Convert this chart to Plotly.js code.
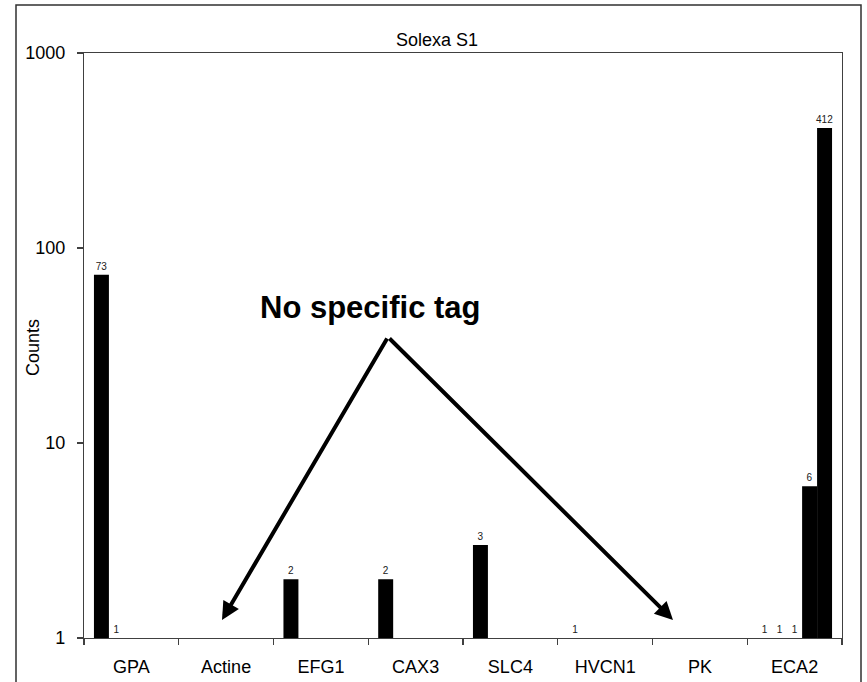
<!DOCTYPE html>
<html>
<head>
<meta charset="utf-8">
<script src="https://cdn.plot.ly/plotly-3.0.1.min.js"></script>
<style>
  html, body { margin: 0; padding: 0; background: #fff; }
  #chart { width: 867px; height: 682px; }
</style>
</head>
<body>
<div id="chart"></div>
<script>
// ---- data ----
const categories = ['GPA', 'Actine', 'EFG1', 'CAX3', 'SLC4', 'HVCN1', 'PK', 'ECA2'];
const series1 = [73, null, 2, 2, 3, 1, null, 1];
const series2 = [1, null, null, null, null, null, null, 1];
const series3 = [null, null, null, null, null, null, null, 1];
const series4 = [null, null, null, null, null, null, null, 6];
const series5 = [null, null, null, null, null, null, null, 412];
const seriesList = [series1, series2, series3, series4, series5];
const chartTitle = 'Solexa S1';
const yTitle = 'Counts';
const noteText = 'No specific tag';
const yTicks = [1, 10, 100, 1000];

const FONT = 'Arial, "Liberation Sans", Helvetica, sans-serif';
const INK = '#000000';
const AXIS = '#404040';

const traces = seriesList.map((vals, i) => ({
  type: 'bar',
  name: 'S' + (i + 1),
  x: categories,
  y: vals,
  text: vals.map(v => (v === null ? '' : String(v))),
  textposition: 'outside',
  constraintext: 'none',
  textfont: { family: FONT, size: 10, color: '#202020' },
  marker: { color: INK, line: { width: 0 } },
  cliponaxis: true,
  hoverinfo: 'x+y',
  showlegend: false
}));

// plot area geometry (px) used only for converting annotation positions
const L = 84, T = 53, R = 25, B = 44;
const W = 867 - L - R, H = 682 - T - B;
const px = v => (v - L) / W;
const py = v => (682 - B - v) / H;

const layout = {
  width: 867,
  height: 682,
  margin: { l: L, r: R, t: T, b: B, pad: 0 },
  paper_bgcolor: '#ffffff',
  plot_bgcolor: '#ffffff',
  font: { family: FONT, color: INK, size: 18 },
  barmode: 'group',
  bargap: 0.21,
  bargroupgap: 0,
  showlegend: false,
  title: {
    text: chartTitle,
    font: { family: FONT, size: 18, color: INK },
    x: 437 / 867, xref: 'container', xanchor: 'center',
    y: 1 - 40 / 682, yref: 'container', yanchor: 'middle'
  },
  xaxis: {
    type: 'category',
    showgrid: false,
    zeroline: false,
    showline: true,
    linecolor: AXIS,
    linewidth: 1.2,
    mirror: true,
    ticks: 'outside',
    tickson: 'boundaries',
    ticklen: 6,
    tickcolor: AXIS,
    tickwidth: 1.2,
    ticklabelstandoff: 12,
    tickfont: { family: FONT, size: 18, color: INK },
    fixedrange: true
  },
  yaxis: {
    type: 'log',
    range: [0, 3],
    tickvals: yTicks,
    ticktext: yTicks.map(String),
    showgrid: false,
    zeroline: false,
    showline: true,
    linecolor: AXIS,
    linewidth: 1.2,
    mirror: true,
    ticks: 'outside',
    ticklen: 6,
    tickcolor: AXIS,
    tickwidth: 1.2,
    ticklabelstandoff: 8,
    tickfont: { family: FONT, size: 18, color: INK },
    fixedrange: true
  },
  shapes: [
    {
      type: 'path', xref: 'paper', yref: 'paper',
      path: 'M ' + px(16) + ' ' + py(700) + ' L ' + px(16) + ' ' + py(5) +
            ' L ' + px(861) + ' ' + py(5) + ' L ' + px(861) + ' ' + py(700),
      line: { color: '#303030', width: 1.5 },
      layer: 'below'
    }
  ],
  annotations: [
    {
      text: yTitle, textangle: -90, showarrow: false,
      xref: 'paper', yref: 'paper', x: px(33), y: py(347),
      xanchor: 'center', yanchor: 'middle',
      font: { family: FONT, size: 18, color: INK }
    },
    {
      text: '<b>' + noteText + '</b>', showarrow: false,
      xref: 'paper', yref: 'paper', x: px(370), y: py(307),
      xanchor: 'center', yanchor: 'middle',
      font: { family: FONT, size: 31, color: INK }
    },
    {
      text: '', showarrow: true,
      xref: 'paper', yref: 'paper', x: px(222), y: py(620),
      ax: 388 - 222, ay: 337 - 620, axref: 'pixel', ayref: 'pixel',
      arrowhead: 2, arrowsize: 0.9, arrowwidth: 4, arrowcolor: INK, standoff: 0
    },
    {
      text: '', showarrow: true,
      xref: 'paper', yref: 'paper', x: px(673), y: py(620),
      ax: 388 - 673, ay: 337 - 620, axref: 'pixel', ayref: 'pixel',
      arrowhead: 2, arrowsize: 0.9, arrowwidth: 4, arrowcolor: INK, standoff: 0
    }
  ]
};

Plotly.newPlot('chart', traces, layout, { displayModeBar: false, staticPlot: true });
</script>
</body>
</html>
